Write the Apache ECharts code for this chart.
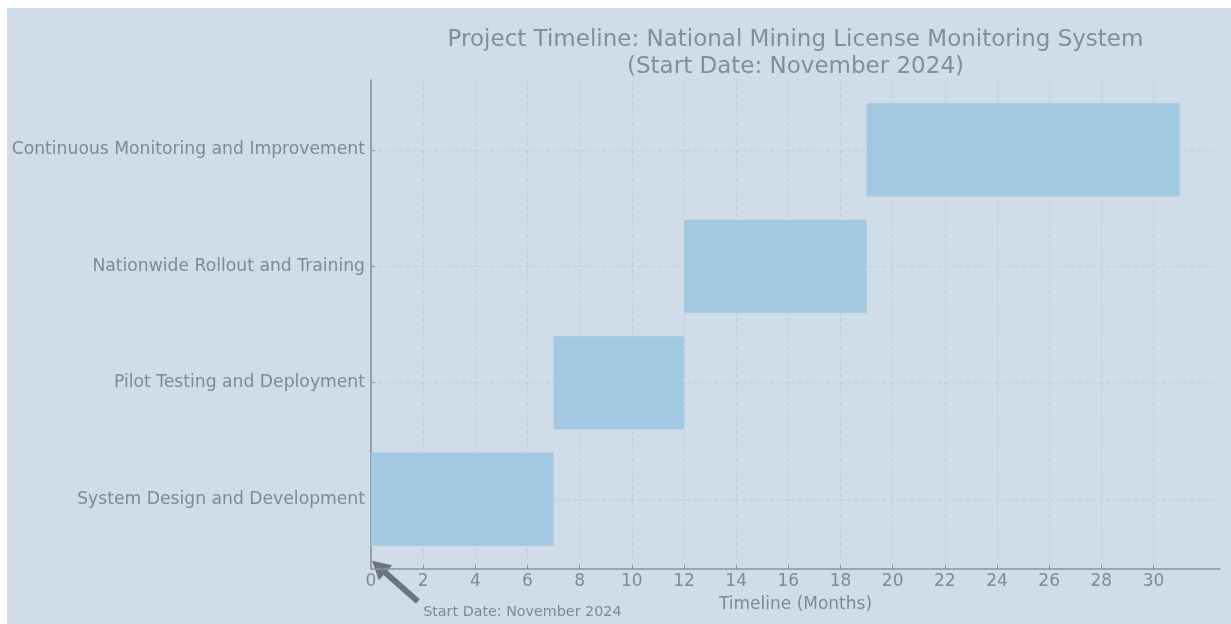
<!DOCTYPE html>
<html>
<head>
<meta charset="utf-8">
<script src="https://cdn.jsdelivr.net/npm/echarts@6/dist/echarts.min.js"></script>
<style>
  html, body { margin: 0; padding: 0; background: #ffffff; }
  #chart { position: absolute; left: 7px; top: 8px; width: 1224px; height: 616px; }
</style>
</head>
<body>
<div id="chart"></div>
<script type="text/javascript">

// project phases (bottom to top)
var tasks = ['System Design and Development', 'Pilot Testing and Deployment',
             'Nationwide Rollout and Training', 'Continuous Monitoring and Improvement'];
var starts = [0, 7, 12, 19];
var durations = [7, 5, 7, 12];
var xTicks = [0, 2, 4, 6, 8, 10, 12, 14, 16, 18, 20, 22, 24, 26, 28, 30];

var textColor = '#7f8997';
var axisColor = '#87929f';
var gridColor = '#bcc8d4';

var chart = echarts.init(document.getElementById('chart'));

var barData = [];
for (var i = 0; i < tasks.length; i++) {
    barData.push([starts[i], starts[i] + durations[i], i]);
}

function renderBar(params, api) {
    var a = api.coord([api.value(0), api.value(2)]);
    var b = api.coord([api.value(1), api.value(2)]);
    var h = api.size([0, 0.8])[1];
    return {
        type: 'rect',
        shape: { x: a[0], y: a[1] - h / 2, width: b[0] - a[0], height: h },
        style: { fill: '#a3c8e1' }
    };
}

option = {
    backgroundColor: '#d0dce7',
    animation: false,
    textStyle: { fontFamily: 'DejaVu Sans' },
    grid: { left: 364, right: 11, top: 72, bottom: 55, containLabel: false },
    xAxis: {
        type: 'value',
        min: 0,
        max: 32.55,
        interval: 2,
        name: 'Timeline (Months)',
        nameLocation: 'middle',
        nameGap: 27,
        nameTextStyle: { color: textColor, fontSize: 17 },
        axisLine: { show: true, onZero: false, lineStyle: { color: axisColor, width: 1.6 } },
        axisTick: { show: true, inside: true, length: 4, customValues: xTicks,
                    lineStyle: { color: axisColor } },
        axisLabel: { color: textColor, fontSize: 17, margin: 4, customValues: xTicks },
        splitLine: { show: true, lineStyle: { color: gridColor, type: [4, 3], width: 0.8 } }
    },
    yAxis: {
        type: 'value',
        min: -0.6,
        max: 3.6,
        axisLine: { show: true, onZero: false, lineStyle: { color: axisColor, width: 1.6 } },
        axisTick: { show: true, inside: true, length: 4, customValues: [0, 1, 2, 3],
                    lineStyle: { color: axisColor } },
        axisLabel: {
            color: textColor, fontSize: 17.2, margin: 6, customValues: [0, 1, 2, 3],
            formatter: function (v) { return tasks[Math.round(v)] || ''; }
        },
        splitLine: { show: true, lineStyle: { color: gridColor, type: [4, 3], width: 0.8 } }
    },
    series: [{
        type: 'custom',
        renderItem: renderBar,
        encode: { x: [0, 1], y: 2 },
        data: barData
    }]
};
chart.setOption(option);

// title, centred over the plot area, and the start-date annotation
var plotCenter = (chart.convertToPixel({ gridIndex: 0 }, [0, 0])[0] +
                  chart.convertToPixel({ gridIndex: 0 }, [32.55, 0])[0]) / 2;
var tip = chart.convertToPixel({ gridIndex: 0 }, [0.04, -0.53]);
var tail = chart.convertToPixel({ gridIndex: 0 }, [1.8, -0.88]);
var txt = chart.convertToPixel({ gridIndex: 0 }, [2, -0.97]);

var dx = tip[0] - tail[0], dy = tip[1] - tail[1];
var len = Math.sqrt(dx * dx + dy * dy);
var ux = dx / len, uy = dy / len;
var headLen = 18, headW = 10;
var base = [tip[0] - ux * headLen, tip[1] - uy * headLen];

chart.setOption({
    graphic: [
        {
            type: 'text', x: plotCenter, y: 19,
            style: {
                text: 'Project Timeline: National Mining License Monitoring System\n(Start Date: November 2024)',
                fill: '#838e9b', font: '23px "DejaVu Sans"', align: 'center', lineHeight: 27
            }
        },
        {
            type: 'line',
            shape: { x1: tail[0], y1: tail[1], x2: base[0] + ux * 2, y2: base[1] + uy * 2 },
            style: { stroke: '#6b7580', lineWidth: 6 }
        },
        {
            type: 'polygon',
            shape: { points: [
                [tip[0], tip[1]],
                [base[0] - uy * headW, base[1] + ux * headW],
                [base[0] + uy * headW, base[1] - ux * headW]
            ] },
            style: { fill: '#6b7580' }
        },
        {
            type: 'text', x: txt[0], y: txt[1],
            style: {
                text: 'Start Date: November 2024', fill: textColor,
                font: '14.3px "DejaVu Sans"', verticalAlign: 'middle'
            }
        }
    ]
});
</script>
</body>
</html>
